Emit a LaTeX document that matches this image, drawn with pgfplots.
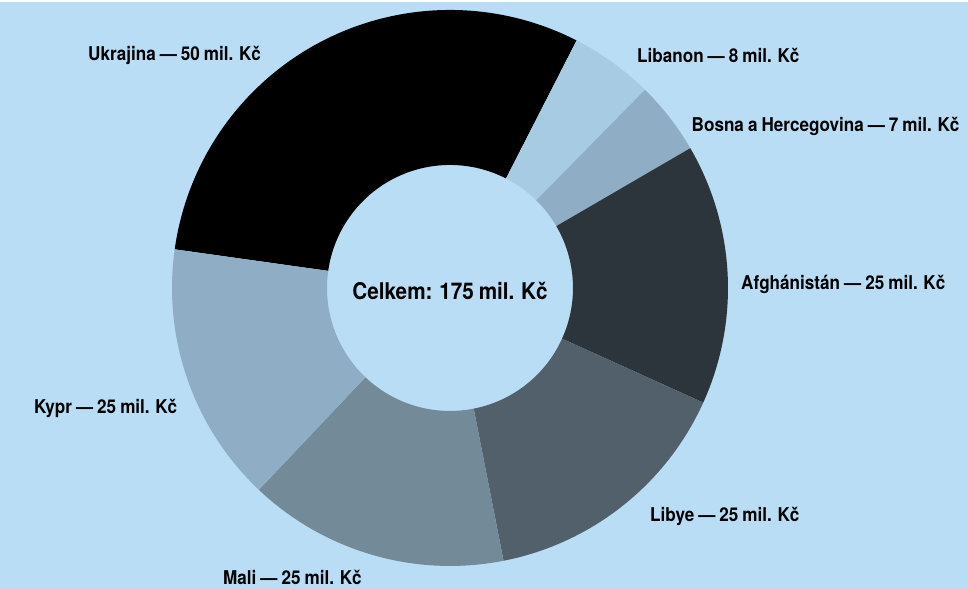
\documentclass[border=0pt]{standalone}
\usepackage{fontspec}
\setmainfont{TeX Gyre Heros}[FakeStretch=0.9, WordSpace=0.85]
\usepackage{pgfplots}
\usepackage{pgfplotstable}
\pgfplotsset{compat=1.18}

\definecolor{bg}{RGB}{185,221,245}
\definecolor{cS0}{RGB}{0,0,0}
\definecolor{cS1}{RGB}{167,203,227}
\definecolor{cS2}{RGB}{143,173,196}
\definecolor{cS3}{RGB}{45,53,60}
\definecolor{cS4}{RGB}{82,96,108}
\definecolor{cS5}{RGB}{115,138,152}
\definecolor{cS6}{RGB}{143,173,196}

% name, value (mil. Kc), label anchor x, label baseline y (in pt of the 968x587 picture)
\pgfplotstableread[col sep=comma]{
name,value,lx,ly
Ukrajina,50,88,528
Libanon,8,637,526.5
Bosna a Hercegovina,7,691.5,457.7
Afghánistán,25,741,299.7
Libye,25,650,67
Mali,25,223,4
Kypr,25,34,175.3
}\data

% cumulative angles (clockwise from 172 deg)
\pgfmathsetmacro{\total}{0}
\pgfplotsforeachungrouped \i in {0,...,6}{%
  \pgfplotstablegetelem{\i}{value}\of\data
  \pgfmathsetmacro{\total}{\total+\pgfplotsretval}%
  \global\let\total\total
}
\pgfmathsetmacro{\acc}{172}
\pgfplotsforeachungrouped \i in {0,...,6}{%
  \pgfplotstablegetelem{\i}{value}\of\data
  \pgfmathsetmacro{\nxt}{\acc-\pgfplotsretval/\total*360}%
  \expandafter\xdef\csname sa\i\endcsname{\acc}%
  \expandafter\xdef\csname ea\i\endcsname{\nxt}%
  \pgfplotstablegetelem{\i}{name}\of\data
  \expandafter\xdef\csname nm\i\endcsname{\pgfplotsretval}%
  \pgfplotstablegetelem{\i}{value}\of\data
  \expandafter\xdef\csname vl\i\endcsname{\pgfplotsretval}%
  \pgfplotstablegetelem{\i}{lx}\of\data
  \expandafter\xdef\csname lx\i\endcsname{\pgfplotsretval}%
  \pgfplotstablegetelem{\i}{ly}\of\data
  \expandafter\xdef\csname ly\i\endcsname{\pgfplotsretval}%
  \global\let\acc\nxt
}
\def\SA#1{\csname sa#1\endcsname}
\def\EA#1{\csname ea#1\endcsname}

\begin{document}
\begin{tikzpicture}
\begin{axis}[
  x=1pt, y=1pt, xmin=0, xmax=968, ymin=0, ymax=587,
  hide axis, scale only axis, clip=false,
]
\fill[bg] (axis cs:0,0) rectangle (axis cs:968,587);
\pgfplotsinvokeforeach{0,...,6}{
  \fill[cS#1] (axis cs:{450+278*cos(\SA{#1})},{301+278*sin(\SA{#1})})
     arc[start angle=\SA{#1}, end angle=\EA{#1}, radius=278pt]
     -- (axis cs:{450+123*cos(\EA{#1})},{301+123*sin(\EA{#1})})
     arc[start angle=\EA{#1}, end angle=\SA{#1}, radius=123pt] -- cycle;
  \node[anchor=base west, inner sep=0pt, font=\bfseries\fontsize{19}{19}\selectfont]
    at (axis cs:\csname lx#1\endcsname,\csname ly#1\endcsname)
    {\csname nm#1\endcsname{} — \csname vl#1\endcsname{} mil. Kč};
}
\node[anchor=base, inner sep=0pt, font=\bfseries\fontsize{23}{23}\selectfont]
  at (axis cs:450,289) {Celkem: 175 mil. Kč};
\end{axis}
\end{tikzpicture}
\end{document}
